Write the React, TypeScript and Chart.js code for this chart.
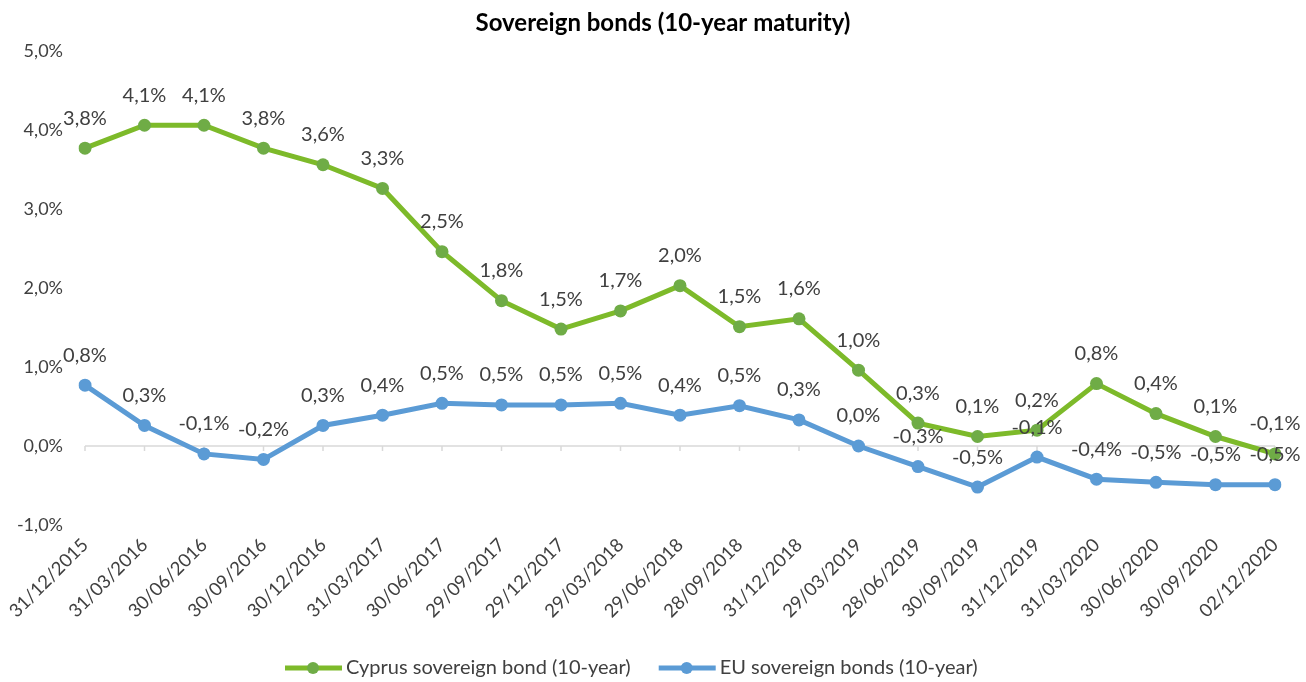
import React, { useEffect, useRef } from 'react';
import { Chart, registerables } from 'chart.js';

Chart.register(...registerables);

const chartTitle = 'Sovereign bonds (10-year maturity)';

const categories = [
  '31/12/2015', '31/03/2016', '30/06/2016', '30/09/2016', '30/12/2016', '31/03/2017',
  '30/06/2017', '29/09/2017', '29/12/2017', '29/03/2018', '29/06/2018', '28/09/2018',
  '31/12/2018', '29/03/2019', '28/06/2019', '30/09/2019', '31/12/2019', '31/03/2020',
  '30/06/2020', '30/09/2020', '02/12/2020',
];

const cyprusName = 'Cyprus sovereign bond (10-year)';
const cyprusValues = [
  3.77, 4.06, 4.06, 3.77, 3.56, 3.26, 2.46, 1.84, 1.48, 1.71, 2.03, 1.51,
  1.61, 0.96, 0.29, 0.12, 0.2, 0.79, 0.41, 0.12, -0.1,
];

const euName = 'EU sovereign bonds (10-year)';
const euValues = [
  0.77, 0.26, -0.1, -0.17, 0.26, 0.39, 0.54, 0.52, 0.52, 0.54, 0.39, 0.51,
  0.33, 0.0, -0.26, -0.52, -0.14, -0.42, -0.46, -0.49, -0.49,
];

const yMin = -1;
const yMax = 5;
const yStep = 1;

const FONT = 'Lato, "Open Sans", sans-serif';
const TEXT_COLOR = '#404040';
const CY_LINE = '#7DBA2A';
const CY_MARK = '#6FAC46';
const EU_LINE = '#5B9BD5';
const EU_MARK = '#5B9BD5';

const fmt = (v: number) => {
  const s = (Math.abs(v) < 0.05 ? 0 : v).toFixed(1).replace('.', ',');
  return s + '%';
};

const zeroLinePlugin = {
  id: 'zeroLine',
  beforeDatasetsDraw(chart: any) {
    const { ctx, chartArea, scales } = chart;
    const y = scales.y.getPixelForValue(0);
    ctx.save();
    ctx.strokeStyle = '#D9D9D9';
    ctx.lineWidth = 1.5;
    ctx.beginPath();
    ctx.moveTo(chartArea.left, y);
    ctx.lineTo(chartArea.right, y);
    for (let i = 0; i < categories.length; i++) {
      const x = scales.x.getPixelForValue(i);
      ctx.moveTo(x, y);
      ctx.lineTo(x, y + 5);
    }
    ctx.stroke();
    ctx.restore();
  },
};

const dataLabelPlugin = {
  id: 'dataLabels',
  afterDatasetsDraw(chart: any) {
    const { ctx } = chart;
    ctx.save();
    ctx.font = '20px ' + FONT;
    ctx.fillStyle = TEXT_COLOR;
    ctx.textAlign = 'center';
    ctx.textBaseline = 'middle';
    chart.data.datasets.forEach((ds: any, di: number) => {
      const meta = chart.getDatasetMeta(di);
      meta.data.forEach((el: any, i: number) => {
        ctx.fillText(fmt(ds.data[i]), el.x, el.y - 30);
      });
    });
    ctx.restore();
  },
};

const titleLegendPlugin = {
  id: 'titleLegend',
  afterDraw(chart: any) {
    const { ctx } = chart;
    ctx.save();
    ctx.font = 'bold 24px ' + FONT;
    ctx.fillStyle = '#000000';
    ctx.textAlign = 'center';
    ctx.textBaseline = 'middle';
    ctx.fillText(chartTitle, 663, 23);

    ctx.font = '20px ' + FONT;
    ctx.textAlign = 'left';
    let x = 285;
    const y = 668;
    chart.data.datasets.forEach((ds: any) => {
      ctx.strokeStyle = ds.borderColor;
      ctx.lineWidth = 5;
      ctx.beginPath();
      ctx.moveTo(x, y);
      ctx.lineTo(x + 57, y);
      ctx.stroke();
      ctx.fillStyle = ds.pointBackgroundColor;
      ctx.beginPath();
      ctx.arc(x + 28, y, 6, 0, Math.PI * 2);
      ctx.fill();
      ctx.fillStyle = TEXT_COLOR;
      ctx.fillText(ds.label, x + 61, y);
      x += 61 + ctx.measureText(ds.label).width + 28;
    });
    ctx.restore();
  },
};

export default function App() {
  const ref = useRef<HTMLCanvasElement | null>(null);

  useEffect(() => {
    if (!ref.current) return;
    const chart = new Chart(ref.current, {
      type: 'line',
      data: {
        labels: categories,
        datasets: [
          {
            label: cyprusName,
            data: cyprusValues,
            borderColor: CY_LINE,
            backgroundColor: CY_LINE,
            pointBackgroundColor: CY_MARK,
            pointBorderColor: CY_MARK,
            borderWidth: 5,
            pointRadius: 6.5,
            pointBorderWidth: 0,
            tension: 0,
          },
          {
            label: euName,
            data: euValues,
            borderColor: EU_LINE,
            backgroundColor: EU_LINE,
            pointBackgroundColor: EU_MARK,
            pointBorderColor: EU_MARK,
            borderWidth: 5,
            pointRadius: 6.5,
            pointBorderWidth: 0,
            tension: 0,
          },
        ],
      },
      options: {
        responsive: false,
        animation: false,
        layout: { padding: { top: 51, right: 31, bottom: 0, left: 0 }, autoPadding: false },
        plugins: {
          legend: { display: false },
          title: { display: false },
          tooltip: { enabled: false },
        },
        scales: {
          x: {
            offset: false,
            grid: { display: false, drawTicks: false },
            border: { display: false },
            ticks: {
              autoSkip: false,
              minRotation: 45,
              maxRotation: 45,
              padding: 9,
              color: TEXT_COLOR,
              font: { family: FONT, size: 18.5 },
            },
            afterFit: (scale: any) => {
              scale.height = 157;
            },
          },
          y: {
            min: yMin,
            max: yMax,
            grid: { display: false, drawTicks: false },
            border: { display: false },
            ticks: {
              stepSize: yStep,
              padding: 22,
              color: TEXT_COLOR,
              font: { family: FONT, size: 18 },
              callback: (v: any) => fmt(Number(v)),
            },
            afterFit: (scale: any) => {
              scale.width = 85;
            },
          },
        },
      },
      plugins: [zeroLinePlugin, dataLabelPlugin, titleLegendPlugin],
    });
    return () => chart.destroy();
  }, []);

  return (
    <div style={{ position: 'fixed', left: 0, top: 0, width: 1306, height: 682, background: '#ffffff' }}>
      <canvas ref={ref} width={1306} height={682} style={{ display: 'block' }} />
    </div>
  );
}
